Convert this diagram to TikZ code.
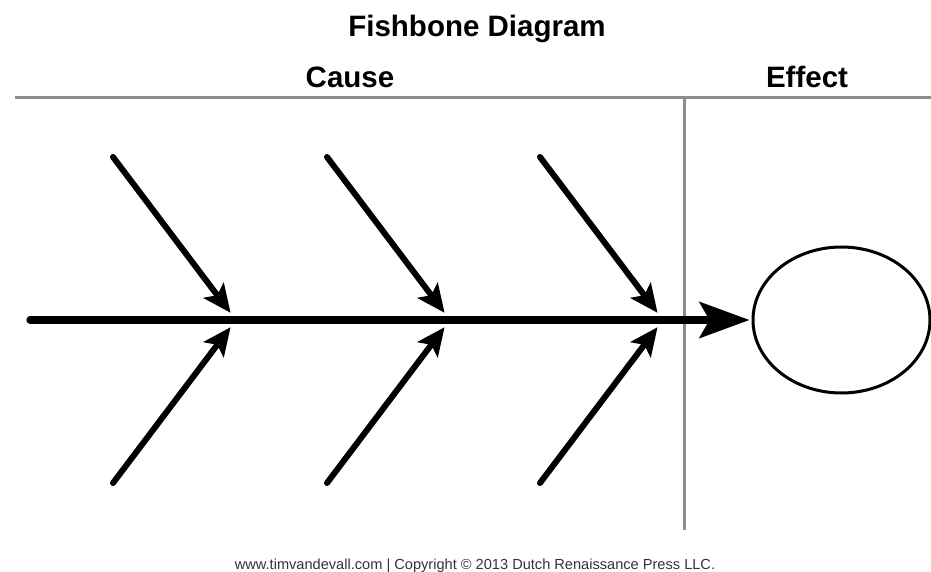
\documentclass[tikz,border=0pt]{standalone}
\usepackage{fontspec}
\setmainfont{Liberation Sans}
\usetikzlibrary{arrows.meta, calc}
\usetikzlibrary{shapes.geometric}

\begin{document}
\begin{tikzpicture}[x=0.5pt, y=-0.5pt]
  \def\ys{320}   % <-- altezza della spina
  \def\dx{123}   % <-- spostamento orizzontale delle lische
  \def\dy{163}   % <-- spostamento verticale delle lische

  \useasboundingbox (0,0) rectangle (931,572);

  % titoli
  \node[anchor=base, font=\fontsize{14.75pt}{17pt}\selectfont\bfseries] (title) at (477,37) {Fishbone Diagram};
  \node[anchor=base, font=\fontsize{14.75pt}{17pt}\selectfont\bfseries] (cause) at (350,88) {Cause};
  \node[anchor=base, font=\fontsize{14.75pt}{17pt}\selectfont\bfseries] (effect) at (807,88) {Effect};

  % righe grigie
  \coordinate (hl) at (15,98);
  \coordinate (hr) at (931,98);
  \coordinate (vt) at (684,98);
  \coordinate (vb) at (684,530);
  \draw[black!45, line width=1.5pt] (hl) -- (hr);
  \draw[black!45, line width=1.5pt] (vt) -- (vb);

  % effetto
  \node[draw, ellipse, line width=1.5pt, inner sep=0pt, minimum width=88.5pt, minimum height=73pt] (eff) at (841.5,\ys) {};

  % spina
  \coordinate (tail) at (30,\ys);
  \draw[line width=3.6pt, line cap=round, -{Stealth[length=25pt, width=18pt, inset=5pt]}, shorten >=1pt] (tail) -- (eff.west);

  % punti di attacco sulla spina
  \coordinate (j1) at (236,\ys);
  \coordinate (j2) at (450,\ys);
  \coordinate (j3) at (663,\ys);

  % lische sopra
  \coordinate (a1) at ($(j1)+(-\dx,-\dy)$);
  \coordinate (a2) at ($(j2)+(-\dx,-\dy)$);
  \coordinate (a3) at ($(j3)+(-\dx,-\dy)$);
  \draw[line width=3pt, line cap=round, -{Stealth[length=14pt, width=12.5pt, inset=3pt]}, shorten >=4.5pt] (a1) -- (j1);
  \draw[line width=3pt, line cap=round, -{Stealth[length=14pt, width=12.5pt, inset=3pt]}, shorten >=4.5pt] (a2) -- (j2);
  \draw[line width=3pt, line cap=round, -{Stealth[length=14pt, width=12.5pt, inset=3pt]}, shorten >=4.5pt] (a3) -- (j3);

  % lische sotto
  \coordinate (b1) at ($(j1)+(-\dx,\dy)$);
  \coordinate (b2) at ($(j2)+(-\dx,\dy)$);
  \coordinate (b3) at ($(j3)+(-\dx,\dy)$);
  \draw[line width=3pt, line cap=round, -{Stealth[length=14pt, width=12.5pt, inset=3pt]}, shorten >=4.5pt] (b1) -- (j1);
  \draw[line width=3pt, line cap=round, -{Stealth[length=14pt, width=12.5pt, inset=3pt]}, shorten >=4.5pt] (b2) -- (j2);
  \draw[line width=3pt, line cap=round, -{Stealth[length=14pt, width=12.5pt, inset=3pt]}, shorten >=4.5pt] (b3) -- (j3);

  % piede di pagina
  \node[anchor=base, font=\fontsize{7.3pt}{8pt}\selectfont, text=black!80] (foot) at (475,569) {www.timvandevall.com | Copyright © 2013 Dutch Renaissance Press LLC.};
\end{tikzpicture}
\end{document}
